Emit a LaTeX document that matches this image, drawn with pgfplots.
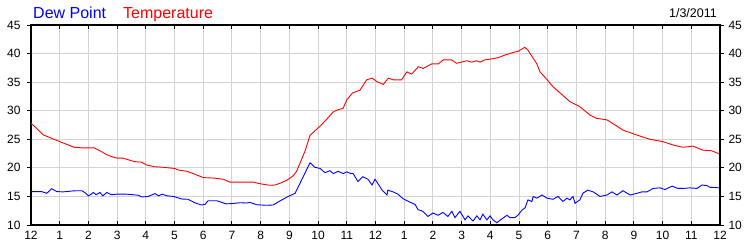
\documentclass[border=0pt]{standalone}
\usepackage{pgfplots}
\pgfplotsset{compat=1.18}
\usepackage{fontspec}
\setmainfont{Liberation Sans}
\definecolor{gridc}{RGB}{211,211,211}
\definecolor{tblue}{RGB}{0,0,255}
\definecolor{tred}{RGB}{255,0,0}
\pgfplotstableread{
h T
0 27.8
0.2 26.9
0.42 25.8
0.7 25.2
1.0 24.6
1.3 24.0
1.5 23.6
1.8 23.5
2.2 23.5
2.4 23.0
2.64 22.3
2.85 21.9
3.0 21.7
3.2 21.7
3.33 21.5
3.6 21.1
3.85 21.0
4.03 20.5
4.3 20.2
4.6 20.1
4.8 20.0
5.0 19.9
5.15 19.6
5.43 19.4
5.7 18.9
6.0 18.3
6.4 18.2
6.7 18.0
6.93 17.5
7.3 17.5
7.74 17.5
8.0 17.2
8.32 16.95
8.5 17.0
8.67 17.3
8.9 17.8
9.13 18.6
9.25 19.4
9.37 20.8
9.55 23.0
9.72 25.7
10.07 27.3
10.3 28.5
10.53 29.8
10.7 30.2
10.87 30.4
11.0 31.9
11.2 33.1
11.46 33.6
11.69 35.4
11.88 35.7
12.05 35.1
12.27 34.6
12.45 35.7
12.62 35.4
12.91 35.4
13.09 36.8
13.26 36.4
13.49 37.7
13.66 37.4
13.96 38.2
14.19 38.2
14.36 38.9
14.65 38.9
14.83 38.3
15.18 38.75
15.35 38.5
15.52 38.75
15.64 38.5
15.81 38.9
16.1 39.1
16.28 39.3
16.51 39.75
16.8 40.2
16.97 40.4
17.2 41.1
17.31 40.6
17.49 39.2
17.62 38.2
17.73 36.8
18.0 35.3
18.18 34.2
18.5 32.8
18.77 31.6
19.12 30.7
19.47 29.25
19.7 28.67
20.06 28.4
20.35 27.5
20.62 26.6
21.1 25.75
21.56 25.0
22.0 24.6
22.37 24.0
22.7 23.6
23.06 23.8
23.4 23.1
23.7 23.0
24.0 22.4
}\temptable
\pgfplotstableread{
h D
0 15.85
0.37 15.85
0.55 15.55
0.72 16.35
0.9 15.85
1.1 15.8
1.25 15.85
1.42 15.95
1.6 16.0
1.77 16.0
1.9 15.6
2.0 15.1
2.1 15.4
2.17 15.7
2.27 15.3
2.4 15.7
2.5 15.1
2.64 15.7
2.8 15.3
3.0 15.4
3.3 15.4
3.56 15.3
3.75 15.2
3.86 14.9
4.08 15.0
4.32 15.5
4.45 15.1
4.57 15.4
4.75 15.1
4.96 15.0
5.25 14.55
5.47 14.5
5.7 13.9
5.94 13.5
6.06 13.6
6.17 14.25
6.47 14.25
6.8 13.7
7.0 13.75
7.28 13.9
7.5 13.85
7.63 13.95
7.86 13.55
8.2 13.45
8.43 13.5
8.74 14.4
8.96 15.0
9.2 15.55
9.37 17.3
9.54 19.05
9.72 20.9
9.89 20.1
10.07 19.9
10.24 19.15
10.41 19.5
10.53 19.0
10.7 19.4
10.87 19.0
11.0 19.3
11.11 19.05
11.22 19.0
11.39 17.6
11.56 18.45
11.74 18.0
11.88 17.0
11.98 18.0
12.04 17.6
12.23 16.1
12.40 15.25
12.43 16.1
12.61 15.8
12.78 15.4
12.96 14.6
13.20 14.0
13.38 13.6
13.48 12.7
13.65 12.4
13.83 11.5
14.00 12.1
14.18 11.7
14.35 12.2
14.52 11.5
14.66 12.4
14.77 11.3
14.94 12.4
15.12 10.9
15.22 11.6
15.40 10.7
15.53 11.6
15.64 10.9
15.74 11.9
15.88 10.9
15.99 11.6
16.09 10.9
16.23 10.4
16.41 11.1
16.58 11.7
16.68 11.3
16.86 11.3
16.96 11.7
17.10 12.6
17.21 13.0
17.31 14.4
17.45 14.1
17.49 15.0
17.62 14.7
17.80 15.25
17.97 14.7
18.18 14.5
18.36 15.0
18.53 14.1
18.67 14.7
18.77 14.4
18.88 15.0
18.95 13.8
19.12 14.4
19.23 15.6
19.40 16.1
19.58 15.8
19.82 15.0
20.06 15.25
20.24 15.8
20.41 15.25
20.62 16.0
20.87 15.25
21.11 15.55
21.28 15.8
21.46 15.8
21.67 16.4
21.91 16.5
22.08 16.2
22.33 16.8
22.53 16.4
22.71 16.4
22.95 16.5
23.20 16.4
23.37 17.0
23.54 16.9
23.65 16.6
24.0 16.5
}\dewtable
\begin{document}
\begin{tikzpicture}[x=1pt,y=1pt]
\useasboundingbox (0,0) rectangle (750,250);
\begin{axis}[
  at={(31pt,25pt)}, anchor=south west,
  scale only axis, width=689pt, height=200pt,
  xmin=0, xmax=24, ymin=10, ymax=45,
  xtick={0,1,...,24},
  xticklabels={12,1,2,3,4,5,6,7,8,9,10,11,12,1,2,3,4,5,6,7,8,9,10,11,12},
  ytick={10,15,...,45},
  yticklabels={10,15,20,25,30,35,40,45},
  xtick pos=both, xtick align=inside,
  ytick pos=left, ytick align=outside,
  major tick length=4pt,
  tick style={black, line width=1pt},
  grid=major,
  grid style={gridc, line width=1pt},
  axis line style={black, line width=1.2pt},
  ticklabel style={font=\fontsize{12}{14}\selectfont, text=black},
  xticklabel style={yshift=-2.5pt},
  yticklabel style={xshift=-3pt},
  /pgf/number format/assume math mode=true,
]
\addplot[tblue, line width=0.9pt, no markers] table[x=h, y=D] {\dewtable};
\addplot[tred, line width=0.9pt, no markers] table[x=h, y=T] {\temptable};
\end{axis}
\begin{axis}[
  at={(31pt,25pt)}, anchor=south west,
  scale only axis, width=689pt, height=200pt,
  xmin=0, xmax=24, ymin=10, ymax=45,
  hide x axis,
  axis y line*=right,
  ytick={10,15,...,45},
  yticklabels={10,15,20,25,30,35,40,45},
  ytick align=outside,
  major tick length=4pt,
  tick style={black, line width=1pt},
  axis line style={black, line width=1.2pt},
  ticklabel style={font=\fontsize{12}{14}\selectfont, text=black},
  yticklabel style={xshift=1pt},
]
\addplot[draw=none] coordinates {(0,10)};
\end{axis}
\node[anchor=base west, text=tblue, font=\fontsize{16}{18}\selectfont, inner sep=0pt] at (33,232) {Dew Point};
\node[anchor=base west, text=tred, font=\fontsize{16}{18}\selectfont, inner sep=0pt] at (123,232) {Temperature};
\node[anchor=base east, text=black, font=\fontsize{12.5}{14}\selectfont, inner sep=0pt] at (717,233) {1/3/2011};
\end{tikzpicture}
\end{document}
